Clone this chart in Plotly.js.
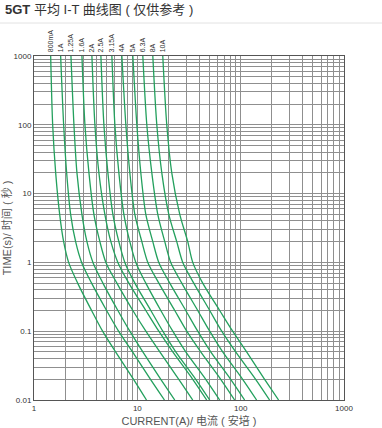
<!DOCTYPE html>
<html><head><meta charset="utf-8">
<script src="https://cdn.plot.ly/plotly-3.0.1.min.js"></script>
<style>html,body{margin:0;padding:0;background:#fff}#chart{width:382px;height:428px}</style>
</head><body><div id="chart"></div>
<script>
// Fuse ratings (curve labels)
const ratings = ["800mA","1A","1.25A","1.6A","2A","2.5A","3.15A","4A","5A","6.3A","8A","10A"];
// Time points (s) shared by all curves
const times = [1000, 100, 20, 5, 2, 1, 0.5, 0.2, 0.1, 0.05, 0.02, 0.01];
// Current (A) of each curve at those times
const cur_800mA = [1.45, 1.516, 1.621, 1.772, 1.936, 2.163, 2.645, 3.609, 4.611, 6.157, 9.19, 12.27];
const cur_1A    = [1.811, 1.936, 2.070, 2.262, 2.528, 2.889, 3.609, 5.040, 6.581, 8.986, 13.41, 18.31];
const cur_1_25A = [2.278, 2.435, 2.604, 2.909, 3.253, 3.718, 4.643, 6.481, 8.465, 11.30, 16.87, 23.03];
const cur_1_6A  = [2.910, 3.111, 3.402, 3.800, 4.342, 4.962, 6.338, 9.050, 12.09, 16.50, 25.18, 34.37];
const cur_2A    = [3.634, 3.885, 4.248, 4.851, 5.546, 6.479, 8.278, 12.08, 16.13, 22.03, 34.37, 46.91];
const cur_2_5A  = [4.440, 4.746, 5.190, 5.799, 6.624, 7.570, 9.462, 13.51, 17.64, 23.55, 36.75, 50.17];
const cur_3_15A = [5.671, 6.062, 6.629, 7.406, 8.461, 9.669, 12.08, 16.87, 22.03, 29.42, 45.90, 62.66];
const cur_4A    = [7.084, 7.743, 8.465, 9.457, 11.06, 12.63, 16.14, 23.03, 30.08, 41.08, 64.10, 87.49];
const cur_5A    = [9.048, 9.889, 10.81, 12.08, 14.12, 16.13, 20.61, 29.42, 38.42, 51.31, 80.07, 109.3];
const cur_6_3A  = [11.30, 12.35, 13.81, 15.77, 18.44, 21.06, 26.91, 38.41, 50.17, 67.00, 104.5, 142.7];
const cur_8A    = [14.12, 15.43, 17.25, 20.16, 24.07, 27.52, 35.15, 50.18, 65.55, 89.49, 139.6, 190.6];
const cur_10A   = [17.63, 19.27, 21.54, 25.74, 30.75, 34.36, 42.93, 62.66, 83.67, 114.2, 170.5, 232.9];
const curves = [cur_800mA, cur_1A, cur_1_25A, cur_1_6A, cur_2A, cur_2_5A, cur_3_15A, cur_4A, cur_5A, cur_6_3A, cur_8A, cur_10A];

// Axis ticks
const xTickVals = [1,2,3,4,5,6,7,8,9,10,20,30,40,50,60,70,80,90,100,200,300,400,500,600,700,800,900,1000];
const xTickText = ["1","","","","","","","","","10","","","","","","","","","100","","","","","","","","","1000"];
const yTickVals = [0.01,0.02,0.03,0.04,0.05,0.06,0.07,0.08,0.09,0.1,0.2,0.3,0.4,0.5,0.6,0.7,0.8,0.9,1,2,3,4,5,6,7,8,9,10,20,30,40,50,60,70,80,90,100,200,300,400,500,600,700,800,900,1000];
const yTickText = ["0.01","","","","","","","","","0.1","","","","","","","","","1","","","","","","","","","10","","","","","","","","","100","","","","","","","","","1000"];

const green = "#23a05d";
const traces = curves.map((c, i) => ({
  x: c, y: times, type: "scatter", mode: "lines", name: ratings[i],
  line: {color: green, width: 1.3, shape: "spline", smoothing: 0.8},
  hoverinfo: "x+y+name", cliponaxis: true
}));

const fontFam = "Liberation Sans, Arial, Noto Sans CJK SC, sans-serif";
const annotations = curves.map((c, i) => ({
  x: Math.log10(c[0]), y: 1, xref: "x", yref: "paper",
  text: ratings[i], showarrow: false, textangle: -90,
  xanchor: "center", yanchor: "bottom", yshift: 2,
  font: {size: 7, color: "#333", family: fontFam}
}));

const layout = {
  width: 382, height: 428,
  margin: {l: 34, r: 38, t: 56, b: 28},
  paper_bgcolor: "#fff", plot_bgcolor: "#fff",
  font: {family: fontFam, color: "#444"},
  showlegend: false,
  title: {
    text: "<b>5GT</b> 平均 I-T 曲线图 ( 仅供参考 )",
    x: 5/382, xanchor: "left", xref: "container",
    y: 1 - 9/428, yanchor: "middle", yref: "container",
    font: {size: 13, color: "#333", family: fontFam}
  },
  xaxis: {
    type: "log", range: [0, 3], tickvals: xTickVals, ticktext: xTickText,
    showgrid: true, gridcolor: "#8f8f8f", gridwidth: 1,
    showline: true, linecolor: "#555", linewidth: 1, mirror: true,
    ticks: "", zeroline: false,
    tickfont: {size: 8, color: "#333"},
    title: {text: "CURRENT(A)/ 电流 ( 安培 )", standoff: 5, font: {size: 11, color: "#555"}},
    automargin: false
  },
  yaxis: {
    type: "log", range: [-2, 3], tickvals: yTickVals, ticktext: yTickText,
    showgrid: true, gridcolor: "#8f8f8f", gridwidth: 1,
    showline: true, linecolor: "#555", linewidth: 1, mirror: true,
    ticks: "", zeroline: false,
    tickfont: {size: 8, color: "#333"},
    title: {text: "TIME(s)/ 时间 ( 秒 )", standoff: 6, font: {size: 11, color: "#555"}},
    automargin: false
  },
  annotations: annotations,
  shapes: [{type: "line", xref: "paper", yref: "paper",
    x0: -34/310, x1: 348/310, y0: (400-23)/344, y1: (400-23)/344,
    line: {color: "#e2e2e2", width: 1}}]
};
Plotly.newPlot("chart", traces, layout, {displayModeBar: false, staticPlot: true});
</script></body></html>
